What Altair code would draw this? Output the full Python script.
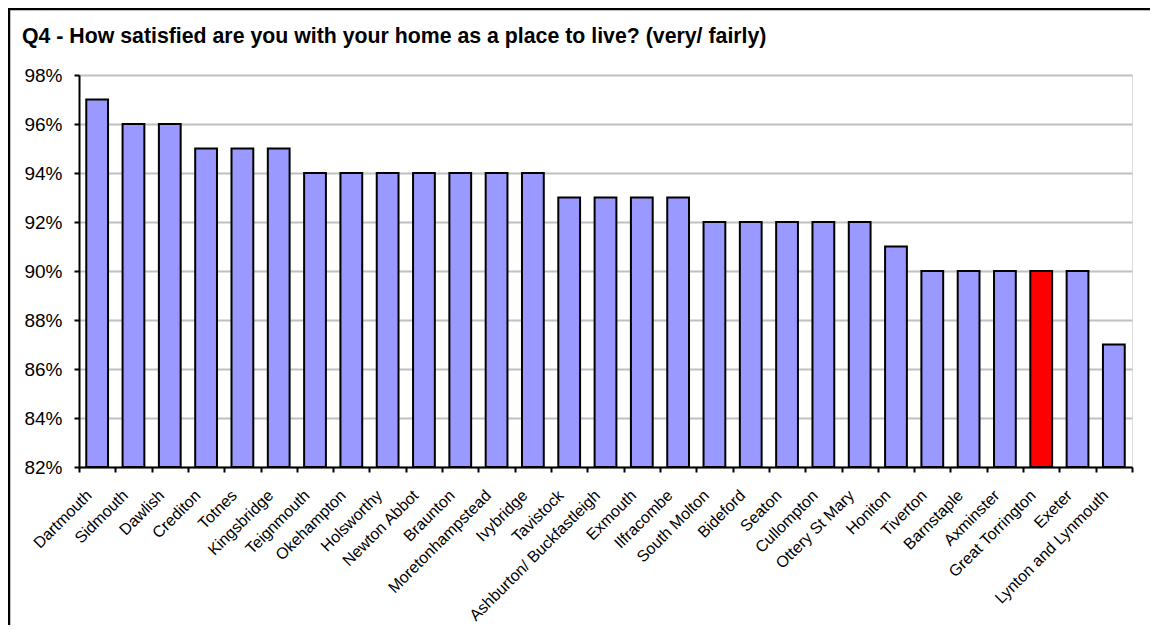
import altair as alt
import pandas as pd

towns = [
    "Dartmouth", "Sidmouth", "Dawlish", "Crediton", "Totnes", "Kingsbridge",
    "Teignmouth", "Okehampton", "Holsworthy", "Newton Abbot", "Braunton",
    "Moretonhampstead", "Ivybridge", "Tavistock", "Ashburton/ Buckfastleigh",
    "Exmouth", "Ilfracombe", "South Molton", "Bideford", "Seaton", "Cullompton",
    "Ottery St Mary", "Honiton", "Tiverton", "Barnstaple", "Axminster",
    "Great Torrington", "Exeter", "Lynton and Lynmouth",
]
satisfied = [
    0.97, 0.96, 0.96, 0.95, 0.95, 0.95,
    0.94, 0.94, 0.94, 0.94, 0.94,
    0.94, 0.94, 0.93, 0.93,
    0.93, 0.93, 0.92, 0.92, 0.92, 0.92,
    0.92, 0.91, 0.90, 0.90, 0.90,
    0.90, 0.90, 0.87,
]
highlight = "Great Torrington"
y_ticks = [0.82, 0.84, 0.86, 0.88, 0.90, 0.92, 0.94, 0.96, 0.98]
title_text = "Q4 - How satisfied are you with your home as a place to live? (very/ fairly)"

df = pd.DataFrame({"town": towns, "value": satisfied})

FONT = "Liberation Sans"
W, H = 1053, 392
PL, PT, PR, PB = 71, 67, 18, 158

bars = alt.Chart(df).mark_bar(
    width=alt.RelativeBandSize(0.6), stroke="black", strokeWidth=2
).encode(
    x=alt.X("town:N", sort=None, title=None,
            scale=alt.Scale(paddingInner=0, paddingOuter=0),
            axis=alt.Axis(labelAngle=-45, labelAlign="right",
                          labelBaseline="line-bottom", labelLineHeight=24,
                          labelFontSize=16, labelFont=FONT, labelColor="black",
                          labelPadding=29,
                          tickBand="extent", tickSize=5,
                          tickColor="black", tickWidth=2, domainColor="black",
                          domainWidth=2, labelOverlap=False)),
    y=alt.Y("value:Q", title=None,
            scale=alt.Scale(domain=[0.82, 0.98], zero=False, clamp=True, nice=False),
            axis=alt.Axis(values=y_ticks, format=".0%", labelFontSize=19,
                          labelFont=FONT, labelColor="black", labelPadding=12,
                          tickSize=5, tickColor="black", tickWidth=2,
                          domainColor="black", domainWidth=2, grid=True,
                          gridColor="#c0c0c0", gridWidth=2)),
    color=alt.condition(alt.datum.town == highlight, alt.value("#FF0000"), alt.value("#9999FF")),
)

single = alt.Data(values=[{"label": title_text}])
title_mark = alt.Chart(single).mark_text(
    align="left", baseline="alphabetic", font=FONT, fontSize=21.3,
    fontWeight="bold", color="black"
).encode(
    x=alt.value(-57), y=alt.value(-32), text="label:N"
)
frame_top = alt.Chart(single).mark_rule(color="black", strokeWidth=2.5).encode(
    x=alt.value(-PL), x2=alt.value(W + PR), y=alt.value(-PT + 1)
)
frame_left = alt.Chart(single).mark_rule(color="black", strokeWidth=2.5).encode(
    x=alt.value(-PL + 1), y=alt.value(-PT), y2=alt.value(H + PB)
)

chart = alt.layer(bars, title_mark, frame_top, frame_left).properties(
    width=W, height=H,
    padding={"left": PL, "top": PT, "right": PR, "bottom": PB},
    autosize=alt.AutoSizeParams(type="none"),
).configure_view(stroke="#808080", strokeWidth=2).configure(background="white")

chart.save("out.html", embed_options={"renderer": "svg", "actions": False})
